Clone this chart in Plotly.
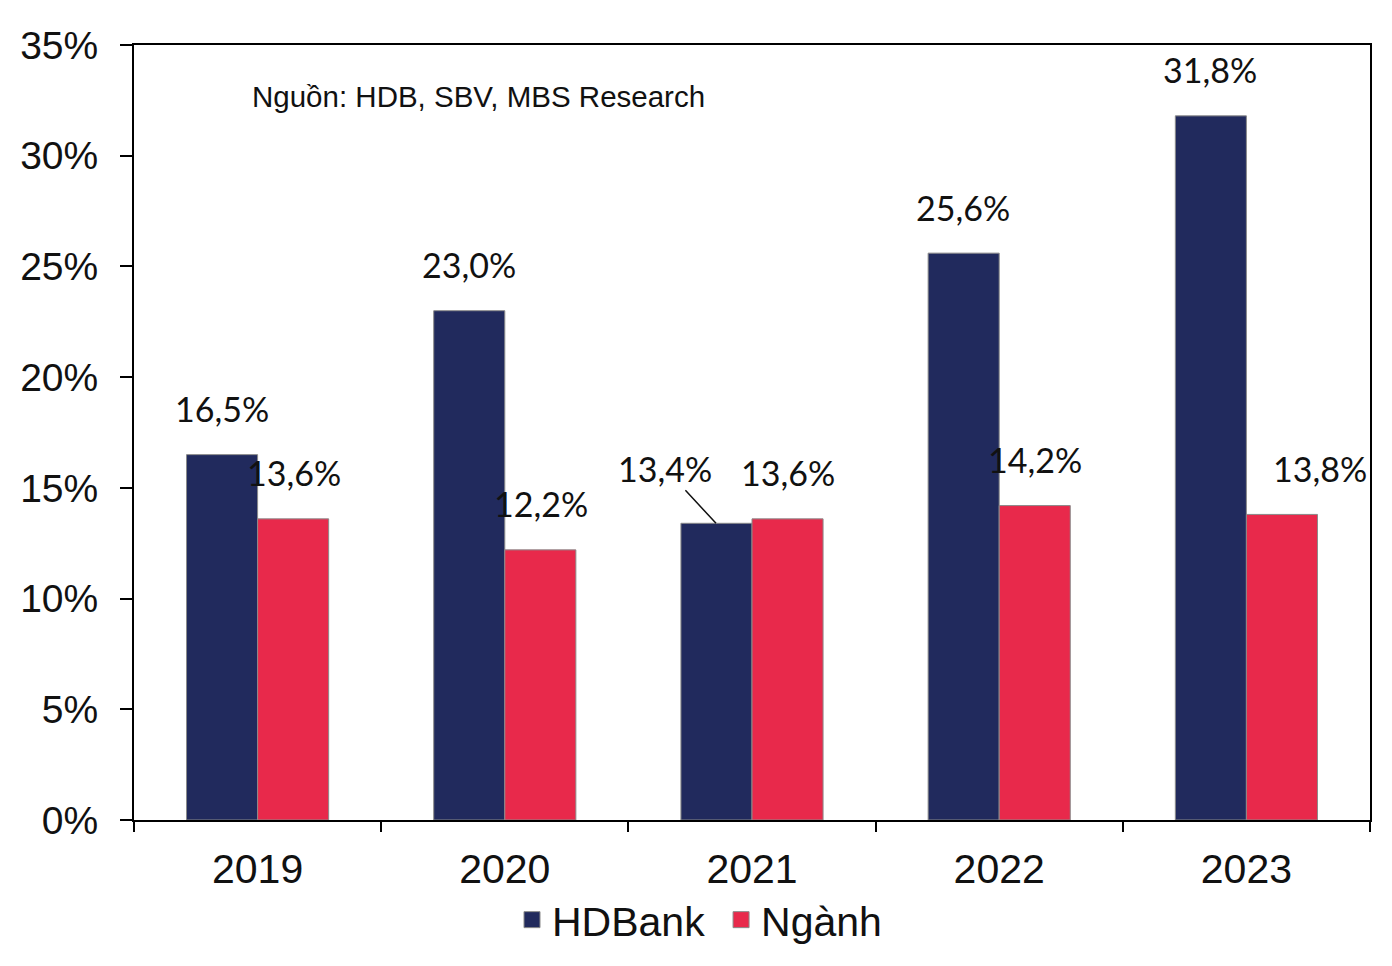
import plotly.graph_objects as go

years = ["2019", "2020", "2021", "2022", "2023"]
hdbank = [16.5, 23.0, 13.4, 25.6, 31.8]
nganh = [13.6, 12.2, 13.6, 14.2, 13.8]
hdbank_labels = ["16,5%", "23,0%", "13,4%", "25,6%", "31,8%"]
nganh_labels = ["13,6%", "12,2%", "13,6%", "14,2%", "13,8%"]
y_ticks = [0, 5, 10, 15, 20, 25, 30, 35]
y_tick_text = ["0%", "5%", "10%", "15%", "20%", "25%", "30%", "35%"]

C_HDB = "#212a5d"
C_NG = "#e8294b"

fig = go.Figure()
fig.add_trace(go.Bar(x=years, y=hdbank, name="HDBank", showlegend=False,
                     marker=dict(color=C_HDB, line=dict(color="#8a8a8a", width=1))))
fig.add_trace(go.Bar(x=years, y=nganh, name="Ngành", showlegend=False,
                     marker=dict(color=C_NG, line=dict(color="#8a8a8a", width=1))))
# legend entries with larger square markers
for nm, col in [("HDBank\u00a0", C_HDB), ("Ngành", C_NG)]:
    fig.add_trace(go.Scatter(x=[None], y=[None], mode="markers", name=nm,
                             marker=dict(symbol="square", size=22, color=col,
                                         line=dict(color="#8a8a8a", width=1))))

lab_font = dict(family="Lato, Carlito, sans-serif", size=34, color="#111111")
for i, y in enumerate(years):
    if i == 2:
        fig.add_annotation(x=i, y=hdbank[i], xshift=-36, text=hdbank_labels[i], showarrow=True,
                           arrowhead=0, arrowwidth=1.5, arrowcolor="#111111", ax=-51, ay=-55,
                           font=lab_font, standoff=0)
    else:
        fig.add_annotation(x=i, y=hdbank[i], xshift=-36, yshift=46, text=hdbank_labels[i],
                           showarrow=False, font=lab_font)
    xs = 74 if i == 4 else 36
    fig.add_annotation(x=i, y=nganh[i], xshift=xs, yshift=46, text=nganh_labels[i],
                       showarrow=False, font=lab_font)

fig.add_annotation(xref="paper", yref="paper", x=(250 - 134) / 1236, y=(820 - 96) / 775,
                   xanchor="left", yanchor="middle", text="Nguồn: HDB, SBV, MBS Research",
                   showarrow=False, font=dict(family="Liberation Sans, Arial", size=29.5, color="#111111"))

fig.update_layout(
    width=1392, height=966,
    margin=dict(l=134, r=22, t=45, b=146),
    paper_bgcolor="white", plot_bgcolor="white",
    barmode="group", bargap=0.425, bargroupgap=0,
    font=dict(family="Liberation Sans, Arial", color="#111111"),
    showlegend=True,
    legend=dict(orientation="h", x=(512 - 134) / 1236, xanchor="left", y=(820 - 920) / 775, yanchor="middle",
                font=dict(size=41, family="Liberation Sans, Arial"), itemwidth=30, tracegroupgap=0,
                bgcolor="rgba(0,0,0,0)"),
)
fig.update_xaxes(type="category", range=[-0.5, 4.5], showline=True, linecolor="black", linewidth=2, mirror=True,
                 ticks="outside", tickson="boundaries", ticklen=10, tickwidth=2, tickcolor="black",
                 tickfont=dict(size=41), showgrid=False, tickangle=0, ticklabelstandoff=12)
fig.update_yaxes(range=[0, 35], tickvals=y_ticks, ticktext=y_tick_text, showline=True, linecolor="black",
                 linewidth=2, mirror=True, ticks="outside", ticklen=12, tickwidth=2, tickcolor="black",
                 tickfont=dict(size=39), showgrid=False, zeroline=False, ticklabelstandoff=14)

fig.write_html("out.html")
